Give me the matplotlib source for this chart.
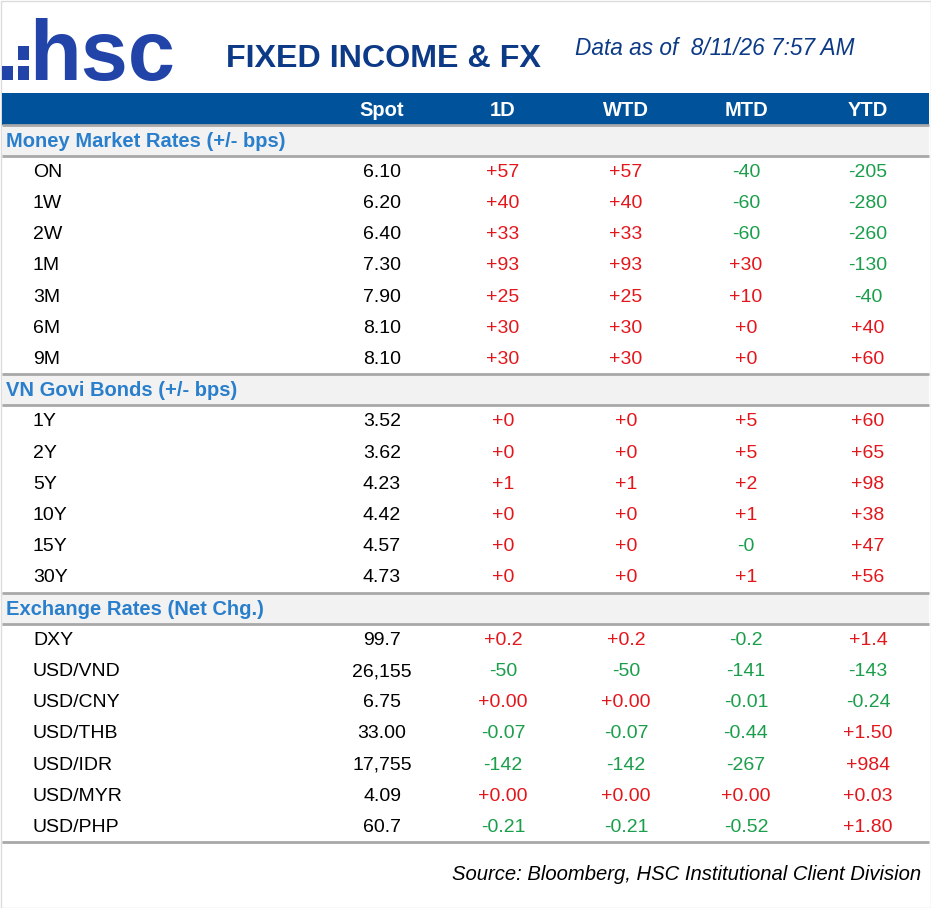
import matplotlib
matplotlib.use('Agg')
import matplotlib.pyplot as plt
from matplotlib.patches import Rectangle

# Table content
columns = ['Spot', '1D', 'WTD', 'MTD', 'YTD']

mm_title = 'Money Market Rates (+/- bps)'
mm_labels = ['ON', '1W', '2W', '1M', '3M', '6M', '9M']
mm_spot = ['6.10', '6.20', '6.40', '7.30', '7.90', '8.10', '8.10']
mm_1d = ['+57', '+40', '+33', '+93', '+25', '+30', '+30']
mm_wtd = ['+57', '+40', '+33', '+93', '+25', '+30', '+30']
mm_mtd = ['-40', '-60', '-60', '+30', '+10', '+0', '+0']
mm_ytd = ['-205', '-280', '-260', '-130', '-40', '+40', '+60']

gb_title = 'VN Govi Bonds (+/- bps)'
gb_labels = ['1Y', '2Y', '5Y', '10Y', '15Y', '30Y']
gb_spot = ['3.52', '3.62', '4.23', '4.42', '4.57', '4.73']
gb_1d = ['+0', '+0', '+1', '+0', '+0', '+0']
gb_wtd = ['+0', '+0', '+1', '+0', '+0', '+0']
gb_mtd = ['+5', '+5', '+2', '+1', '-0', '+1']
gb_ytd = ['+60', '+65', '+98', '+38', '+47', '+56']

fx_title = 'Exchange Rates (Net Chg.)'
fx_labels = ['DXY', 'USD/VND', 'USD/CNY', 'USD/THB', 'USD/IDR', 'USD/MYR', 'USD/PHP']
fx_spot = ['99.7', '26,155', '6.75', '33.00', '17,755', '4.09', '60.7']
fx_1d = ['+0.2', '-50', '+0.00', '-0.07', '-142', '+0.00', '-0.21']
fx_wtd = ['+0.2', '-50', '+0.00', '-0.07', '-142', '+0.00', '-0.21']
fx_mtd = ['-0.2', '-141', '-0.01', '-0.44', '-267', '+0.00', '-0.52']
fx_ytd = ['+1.4', '-143', '-0.24', '+1.50', '+984', '+0.03', '+1.80']

title = 'FIXED INCOME & FX'
asof = 'Data as of  8/11/26 7:57 AM'
source = 'Source: Bloomberg, HSC Institutional Client Division'

sections = [
    (mm_title, mm_labels, mm_spot, mm_1d, mm_wtd, mm_mtd, mm_ytd),
    (gb_title, gb_labels, gb_spot, gb_1d, gb_wtd, gb_mtd, gb_ytd),
    (fx_title, fx_labels, fx_spot, fx_1d, fx_wtd, fx_mtd, fx_ytd),
]

# styling
plt.rcParams['font.family'] = ['Liberation Sans', 'DejaVu Sans']
BLUE_HDR = '#00529b'
LOGO = '#2244a8'
NAVY = '#0d3a86'
SEC_BLUE = '#2a7fcc'
RED = '#e3161c'
GREEN = '#1b9e4b'
BAND = '#f2f2f2'
LINE = '#a8a8a8'

W, H = 931, 908
fig = plt.figure(figsize=(W / 100, H / 100), dpi=100)
ax = fig.add_axes([0, 0, 1, 1])
ax.set_xlim(0, W)
ax.set_ylim(H, 0)
ax.axis('off')

# frame
ax.add_patch(Rectangle((0.5, 0.5), W - 1, H - 1, fill=False, edgecolor='#dcdcdc', lw=1))

# logo
for (x0, y0) in [(2, 66), (18, 46), (18, 66)]:
    ax.add_patch(Rectangle((x0, y0), 11, 14, color=LOGO, lw=0))
ax.text(29, 80, 'hsc', fontsize=61, fontweight='bold', color=LOGO,
        ha='left', va='baseline')

ax.text(226, 67, title, fontsize=23.2, fontweight='bold', color=NAVY,
        ha='left', va='baseline')
ax.text(575, 55, asof, fontsize=16.3, style='italic', color=NAVY,
        ha='left', va='baseline')

col_x = [382, 503, 626, 746, 868]
row_h = 31.2
y_top = 93.4
left, right = 2, 929

# header band
ax.add_patch(Rectangle((left, y_top), right - left, row_h, color=BLUE_HDR, lw=0))
for cx, name in zip(col_x, columns):
    ax.text(cx, y_top + row_h / 2 + 1, name, fontsize=14.5, fontweight='bold',
            color='white', ha='center', va='center')


def val_color(s):
    if s.startswith('+'):
        return RED
    if s.startswith('-'):
        return GREEN
    return 'black'


row = 1
for sec_title, labels, spot, d1, wtd, mtd, ytd in sections:
    y0 = y_top + row * row_h
    ax.add_patch(Rectangle((left, y0), right - left, row_h, color=BAND, lw=0))
    ax.plot([left, right], [y0, y0], color=LINE, lw=2, solid_capstyle='butt')
    ax.plot([left, right], [y0 + row_h, y0 + row_h], color=LINE, lw=2,
            solid_capstyle='butt')
    ax.text(6, y0 + row_h / 2 + 1, sec_title, fontsize=14.5, fontweight='bold',
            color=SEC_BLUE, ha='left', va='center')
    row += 1
    for i, lab in enumerate(labels):
        yc = y_top + row * row_h + row_h / 2 + 1
        ax.text(33, yc, lab, fontsize=14, color='black', ha='left', va='center')
        ax.text(col_x[0], yc, spot[i], fontsize=14, color='black',
                ha='center', va='center')
        for cx, vals in zip(col_x[1:], [d1, wtd, mtd, ytd]):
            ax.text(cx, yc, vals[i], fontsize=14, color=val_color(vals[i]),
                    ha='center', va='center')
        row += 1

y_end = y_top + row * row_h
ax.plot([left, right], [y_end, y_end], color=LINE, lw=2, solid_capstyle='butt')

ax.text(921, 880, source, fontsize=14.6, style='italic', color='black',
        ha='right', va='baseline')

fig.savefig('out.png', dpi=100)
